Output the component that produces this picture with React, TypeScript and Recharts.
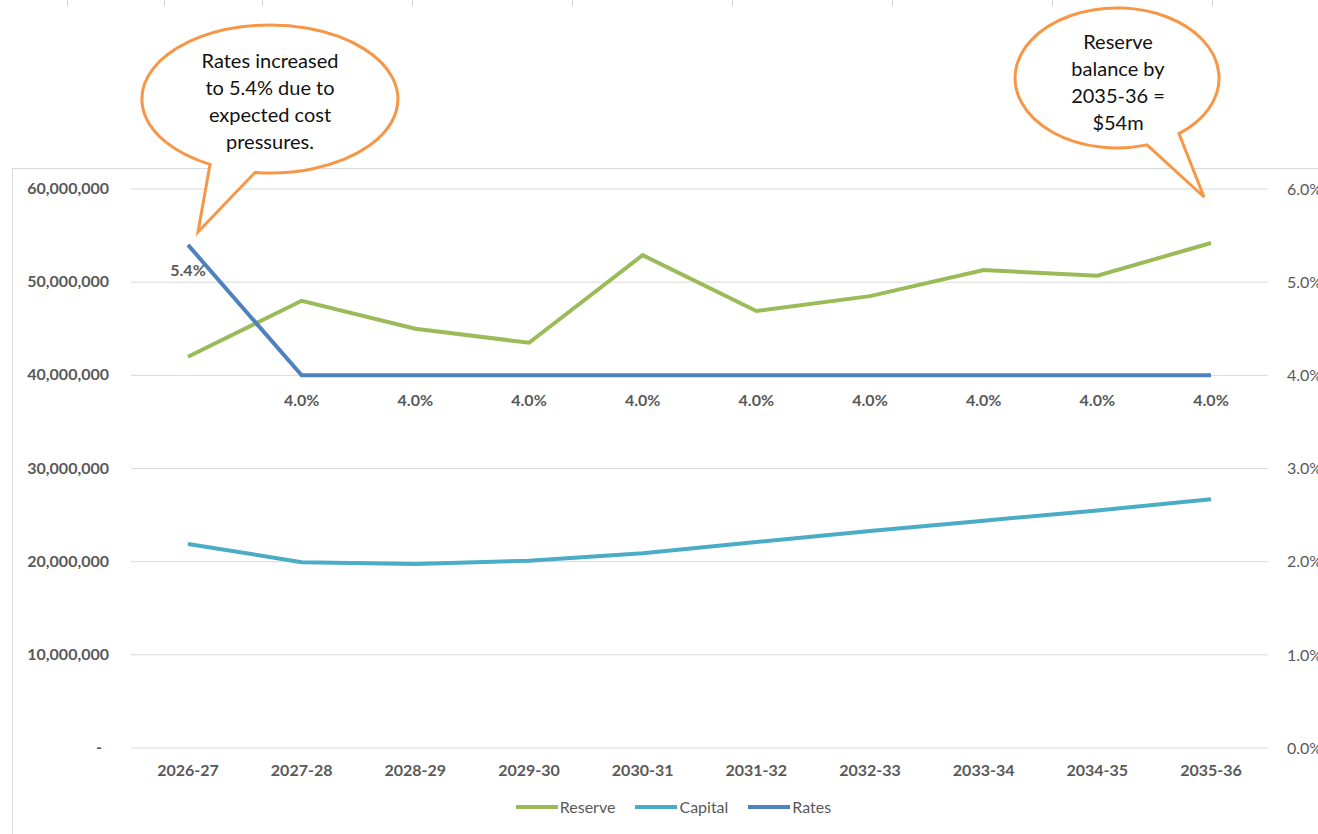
import { LineChart, Line, XAxis, YAxis, CartesianGrid, Legend, LabelList } from "recharts";

const years = ["2026-27", "2027-28", "2028-29", "2029-30", "2030-31", "2031-32", "2032-33", "2033-34", "2034-35", "2035-36"];
const reserve = [42000000, 48000000, 45000000, 43500000, 52900000, 46900000, 48500000, 51300000, 50700000, 54200000];
const capital = [21900000, 19950000, 19750000, 20100000, 20900000, 22100000, 23300000, 24400000, 25500000, 26700000];
const rates = [0.054, 0.04, 0.04, 0.04, 0.04, 0.04, 0.04, 0.04, 0.04, 0.04];
const leftTicks = [0, 10000000, 20000000, 30000000, 40000000, 50000000, 60000000];
const rightTicks = [0, 0.01, 0.02, 0.03, 0.04, 0.05, 0.06];

const rateNote = ["Rates increased", "to 5.4% due to", "expected cost", "pressures."];
const reserveNote = ["Reserve", "balance by", "2035-36 =", "$54m"];

const series = [
  { key: "reserve", name: "Reserve", color: "#9BBB59", axis: "left" },
  { key: "capital", name: "Capital", color: "#4BACC6", axis: "left" },
  { key: "rates", name: "Rates", color: "#4F81BD", axis: "right" },
];

const data = years.map((year, i) => ({ year, reserve: reserve[i], capital: capital[i], rates: rates[i] }));

const FONT = "Lato, 'Noto Sans', sans-serif";
const GREY = "#595959";

// spreadsheet cell edges peeking above the chart
const cellEdges = [67, 164, 262, 412, 572, 732, 892, 1052, 1212];

function LeftTick(props: any) {
  const { x, y, payload } = props;
  const v = payload.value;
  return (
    <text x={v === 0 ? x - 7 : x} y={y} dy={5} textAnchor="end" fill={GREY} fontSize={16} fontWeight={700} fontFamily={FONT}>
      {v === 0 ? "-" : v.toLocaleString("en-US")}
    </text>
  );
}

function RateLabel(props: any) {
  const { x, y, value } = props;
  return (
    <text x={x} y={y + 31} textAnchor="middle" fill={GREY} fontSize={16} fontWeight={700} fontFamily={FONT}>
      {(value * 100).toFixed(1)}%
    </text>
  );
}

function LegendBox() {
  return (
    <div style={{ display: "flex", justifyContent: "center", fontFamily: FONT, fontSize: 16, color: GREY }}>
      {series.map((s, i) => (
        <div key={s.key} style={{ display: "flex", alignItems: "center", marginLeft: i ? 20 : 0 }}>
          <div style={{ width: 42, height: 4, background: s.color, marginRight: 2 }} />
          <span>{s.name}</span>
        </div>
      ))}
    </div>
  );
}

function Bubble({ path, lines, cx, y0 }: { path: string; lines: string[]; cx: number; y0: number }) {
  return (
    <g>
      <path d={path} fill="#fff" stroke="#F79646" strokeWidth={3} strokeLinejoin="miter" />
      {lines.map((t, i) => (
        <text key={i} x={cx} y={y0 + i * 27} textAnchor="middle" fill="#111" fontSize={20} fontFamily={FONT}>
          {t}
        </text>
      ))}
    </g>
  );
}

export default function App() {
  return (
    <div style={{ position: "absolute", left: 0, top: 0, width: 1318, height: 834, overflow: "hidden", background: "#fff" }}>
      {cellEdges.map((x) => (
        <div key={x} style={{ position: "absolute", left: x, top: 0, width: 1, height: 6, background: "#D4D4D4" }} />
      ))}
      <div style={{ position: "absolute", left: 12, top: 168, width: 1400, height: 800, border: "1px solid #D9D9D9" }} />
      <div style={{ position: "absolute", left: 0, top: 0 }}>
        <LineChart width={1318} height={834} data={data} margin={{ top: 189, right: 0, bottom: 56, left: 0 }}>
          <CartesianGrid yAxisId="left" vertical={false} stroke="#D9D9D9" />
          <XAxis
            dataKey="year"
            scale="point"
            padding={{ left: 57, right: 57 }}
            axisLine={false}
            tickLine={false}
            tickSize={0}
            tickMargin={17}
            height={30}
            tick={{ fill: GREY, fontSize: 16, fontWeight: 700, fontFamily: FONT }}
          />
          <YAxis
            yAxisId="left"
            domain={[0, 60000000]}
            ticks={leftTicks}
            width={131}
            axisLine={false}
            tickLine={false}
            tickSize={0}
            tickMargin={22}
            tick={<LeftTick />}
          />
          <YAxis
            yAxisId="right"
            orientation="right"
            domain={[0, 0.06]}
            ticks={rightTicks}
            width={50}
            axisLine={false}
            tickLine={false}
            tickSize={0}
            tickMargin={19}
            tickFormatter={(v: number) => (v * 100).toFixed(1) + "%"}
            tick={{ fill: GREY, fontSize: 16, fontFamily: FONT }}
          />
          {series.map((s) => (
            <Line
              key={s.key}
              yAxisId={s.axis}
              dataKey={s.key}
              name={s.name}
              stroke={s.color}
              strokeWidth={4}
              dot={false}
              activeDot={false}
              isAnimationActive={false}
            >
              {s.key === "rates" && <LabelList dataKey="rates" content={<RateLabel />} />}
            </Line>
          ))}
          <Legend
            verticalAlign="middle"
            align="center"
            layout="horizontal"
            content={<LegendBox />}
            wrapperStyle={{ left: 12, width: 1323, top: 797 }}
          />
        </LineChart>
      </div>
      <svg style={{ position: "absolute", left: 0, top: 0 }} width={1318} height={834}>
        <Bubble
          path="M 210 164.4 L 198 232 L 255 172.5 A 128 74 0 1 0 210 164.4 Z"
          lines={rateNote}
          cx={270}
          y0={68}
        />
        <Bubble
          path="M 1179 133.6 L 1204 197 L 1147 144.9 A 102 70 0 1 1 1179 133.6 Z"
          lines={reserveNote}
          cx={1118}
          y0={49}
        />
      </svg>
    </div>
  );
}
